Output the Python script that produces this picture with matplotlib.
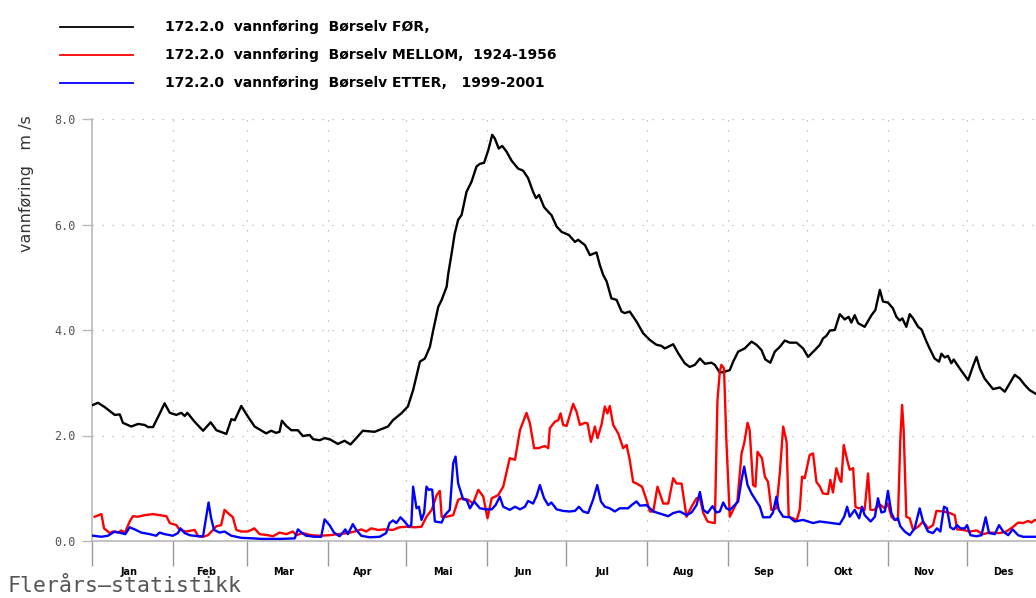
import matplotlib
matplotlib.use("Agg")
import matplotlib.pyplot as plt
from matplotlib.ticker import FixedLocator, NullFormatter

# ---------------- data (day of year, m3/s) ----------------
for_days = [0.4, 2.3, 4.8, 8.7, 10.6, 11.8, 15, 17.6, 20.1, 21.4, 23.3, 25.8, 27.7, 29.7, 32.2, 34.1, 35.4, 36.4,
            39.2, 42.4, 45.3, 47.5, 51.3, 53.2, 54.5, 57, 59.5, 62.1, 66.5, 68.4, 70.3, 71.6, 72.5, 74.2, 76.1,
            78.6, 80.5, 83.1, 84.4, 86.9, 88.8, 90.7, 93.9, 96.4, 98.7, 100.9, 103.4, 107.9, 110.4, 113, 114.9,
            118.1, 120.6, 122.6, 125.2, 127.1, 129, 130.3, 132.2, 133.5, 135.4, 136, 137.3, 138.5, 139.8, 141.1,
            143, 144.9, 146.8, 148.1, 149.7, 151.3, 152.8, 153.8, 155.3, 156.6, 158.3, 160.2, 162.7, 164.6,
            166.5, 168.4, 169.5, 170.7, 172.6, 174.2, 175.4, 177.4, 179.3, 182.1, 184.4, 185.6, 188.2, 190.1,
            192.6, 193.9, 195.2, 196.5, 198.3, 200.3, 202.2, 203.4, 205.3, 207.9, 210.4, 213, 215.5, 217.4,
            218.7, 221.9, 223.8, 226.3, 228.2, 230.2, 232.1, 234, 236.5, 237.8, 239.7, 241.6, 243.5, 244.8,
            246.7, 249.2, 251.8, 253.7, 255.6, 257.1, 259, 260.7, 262.6, 264.5, 266.4, 269, 271.5, 273.4, 276,
            277.9, 279.1, 280.4, 281.7, 283.6, 285.5, 287.4, 288.9, 289.9, 291.2, 292.5, 295, 297.6, 299.1,
            300.8, 302, 303.9, 305.8, 307.1, 308.4, 309.4, 310.9, 312.2, 313.5, 315.4, 316.7, 318.6, 319.8,
            321.7, 323.4, 324.3, 325.6, 326.8, 328.1, 329, 331.3, 334.5, 336.4, 337.7, 339, 340.8, 344, 346.6,
            348.5, 350.4, 352.3, 354.2, 356.1, 358, 360, 362, 364]
for_vals = [2.58, 2.62, 2.54, 2.39, 2.40, 2.24, 2.17, 2.22, 2.20, 2.16, 2.16, 2.41, 2.61, 2.43, 2.39, 2.43, 2.37,
            2.43, 2.26, 2.09, 2.25, 2.10, 2.03, 2.31, 2.29, 2.56, 2.36, 2.17, 2.04, 2.09, 2.05, 2.07, 2.28, 2.18,
            2.10, 2.10, 1.99, 2.01, 1.93, 1.91, 1.95, 1.93, 1.84, 1.90, 1.83, 1.95, 2.09, 2.07, 2.12, 2.17, 2.29,
            2.42, 2.55, 2.86, 3.40, 3.46, 3.68, 4.00, 4.44, 4.57, 4.82, 5.06, 5.45, 5.83, 6.09, 6.18, 6.62, 6.81,
            7.10, 7.15, 7.17, 7.41, 7.70, 7.63, 7.44, 7.49, 7.38, 7.21, 7.06, 7.02, 6.88, 6.62, 6.50, 6.56, 6.33,
            6.24, 6.18, 5.96, 5.86, 5.80, 5.67, 5.71, 5.61, 5.42, 5.47, 5.23, 5.04, 4.92, 4.60, 4.57, 4.35, 4.32,
            4.35, 4.16, 3.94, 3.81, 3.72, 3.70, 3.65, 3.73, 3.56, 3.37, 3.30, 3.34, 3.46, 3.36, 3.38, 3.34, 3.19,
            3.21, 3.24, 3.40, 3.59, 3.65, 3.78, 3.72, 3.62, 3.44, 3.38, 3.59, 3.68, 3.80, 3.76, 3.76, 3.65, 3.49,
            3.62, 3.72, 3.84, 3.89, 3.99, 4.00, 4.30, 4.20, 4.25, 4.14, 4.28, 4.13, 4.06, 4.28, 4.38, 4.76, 4.54,
            4.52, 4.41, 4.25, 4.18, 4.22, 4.06, 4.30, 4.22, 4.06, 4.01, 3.78, 3.65, 3.46, 3.40, 3.55, 3.48, 3.51,
            3.37, 3.44, 3.27, 3.05, 3.32, 3.49, 3.27, 3.08, 2.88, 2.91, 2.83, 2.99, 3.15, 3.08, 2.96, 2.86, 2.80,
            2.75, 2.70]

mellom_days = [1, 3.6, 4.6, 6.8, 8, 9.9, 11.2, 12.5, 14.4, 15.6, 17.6, 20.1, 23.3, 25.8, 28.4, 29.7, 32.2, 33.5,
               36, 39.2, 40.5, 42.4, 44.3, 47.5, 49.3, 50.6, 51.9, 53.8, 55.1, 57, 59.5, 62, 64, 67.2, 69.1, 71.6,
               74.2, 76.7, 78, 80.5, 83.7, 86.9, 90.7, 93.9, 97.7, 100.3, 102.8, 104.7, 106.6, 109.2, 111.7, 114.9,
               117.4, 120, 123.3, 125.8, 127.7, 129.7, 131.6, 132.8, 133.5, 135.4, 137.9, 139.8, 141.1, 143.6,
               145.5, 147.5, 149.4, 151, 152.6, 155.1, 157, 159.5, 161.5, 163.4, 165.9, 167.2, 168.8, 170.4,
               172.9, 174.2, 174.8, 176.7, 178, 178.9, 179.9, 181.2, 183.7, 185, 186.3, 188.2, 189.2, 190.5,
               192, 193, 194.5, 195.8, 196.8, 197.7, 199, 200.9, 202.8, 204.1, 205.3, 206.6, 207.9, 210, 211.7,
               213, 214.3, 215.9, 218.1, 220, 221.9, 223.2, 225.1, 227, 228.9, 230.8, 232.1, 233.4, 235, 236.5,
               237.8, 238.8, 239.7, 240.3, 241.3, 242.2, 243.5, 244.8, 246.4, 248, 249, 250.3, 251.1, 252.4,
               253.3, 254.1, 255.8, 256.9, 258.1, 259.4, 261.3, 262.6, 263.9, 265.2, 266, 267.7, 269, 270.2,
               271.1, 272.1, 273.2, 274, 275.3, 276.6, 277.9, 279.1, 281, 281.9, 282.9, 284.2, 285.5, 286.1,
               287, 288.3, 289.3, 290.6, 291.5, 292.5, 293.8, 295, 296.3, 297.2, 298.6, 299.9, 301.1, 302.7,
               303.9, 305.2, 306.5, 307.7, 308.6, 309.3, 309.9, 310.9, 312.2, 313.5, 315.4, 317.3, 319.2, 321.1,
               322.4, 325, 327.5, 329.4, 330.3, 332.6, 335.1, 337.7, 340.2, 342.7, 346.6, 349.1, 351.7, 353.6,
               355.5, 357.4, 358.7, 360, 362, 364]
mellom_vals = [0.46, 0.51, 0.24, 0.15, 0.18, 0.16, 0.20, 0.15, 0.37, 0.47, 0.46, 0.49, 0.51, 0.49, 0.47, 0.34,
               0.30, 0.21, 0.18, 0.21, 0.09, 0.08, 0.11, 0.28, 0.30, 0.59, 0.53, 0.45, 0.21, 0.18, 0.18, 0.24,
               0.13, 0.11, 0.09, 0.16, 0.13, 0.18, 0.11, 0.15, 0.11, 0.10, 0.11, 0.13, 0.15, 0.18, 0.22, 0.18,
               0.24, 0.21, 0.22, 0.21, 0.26, 0.27, 0.26, 0.27, 0.46, 0.59, 0.87, 0.95, 0.46, 0.46, 0.49, 0.78,
               0.81, 0.78, 0.71, 0.97, 0.84, 0.43, 0.81, 0.87, 1.03, 1.57, 1.54, 2.10, 2.43, 2.23, 1.76, 1.76,
               1.80, 1.76, 2.14, 2.26, 2.29, 2.42, 2.20, 2.18, 2.60, 2.45, 2.20, 2.24, 2.23, 1.88, 2.17, 1.95,
               2.20, 2.55, 2.42, 2.56, 2.20, 2.04, 1.76, 1.82, 1.54, 1.12, 1.09, 1.03, 0.78, 0.56, 0.56, 1.03,
               0.71, 0.71, 1.19, 1.09, 1.09, 0.46, 0.65, 0.81, 0.81, 0.53, 0.37, 0.35, 0.34, 2.67, 3.21, 3.34,
               3.27, 1.91, 0.46, 0.59, 0.75, 1.66, 1.85, 2.24, 2.10, 1.06, 1.03, 1.69, 1.57, 1.22, 1.12, 0.59,
               0.62, 1.28, 2.17, 1.88, 0.46, 0.43, 0.39, 0.59, 1.22, 1.19, 1.44, 1.63, 1.66, 1.12, 1.03, 0.90,
               0.89, 1.16, 0.92, 1.38, 1.16, 1.12, 1.82, 1.54, 1.35, 1.38, 0.65, 0.62, 0.63, 0.59, 1.28, 0.59,
               0.59, 0.65, 0.68, 0.62, 0.71, 0.46, 0.40, 0.40, 1.91, 2.58, 2.10, 0.46, 0.43, 0.21, 0.27, 0.37,
               0.24, 0.30, 0.57, 0.56, 0.53, 0.49, 0.22, 0.21, 0.18, 0.20, 0.13, 0.16, 0.15, 0.18, 0.27, 0.35,
               0.34, 0.38, 0.35, 0.40, 0.38, 0.40]

etter_days = [0.4, 3.6, 6.1, 8.7, 11.2, 12.7, 14.4, 16.3, 18.8, 22, 24.5, 25.8, 27.7, 30.9, 32.8, 33.8, 35.4, 37.3,
              40.5, 42.4, 43.6, 44.5, 45.5, 46.6, 48.7, 50.6, 53.2, 57, 61.5, 64.6, 72.3, 77.4, 78.6, 80.2, 81.8,
              85, 87.5, 88.8, 90.7, 92.4, 94.5, 95.8, 96.7, 97.7, 99.6, 100.9, 102.8, 106, 109.8, 112.3, 113.6,
              114.9, 116.2, 117.8, 119.3, 121, 121.9, 122.6, 123.9, 124.8, 125.8, 126.8, 127.7, 128.6, 129.4,
              129.9, 130.9, 133.5, 134.7, 136.6, 137.9, 138.8, 139.8, 141.7, 143, 144.3, 145.9, 148.1, 150.6,
              152.6, 154.1, 155.7, 157, 159.5, 161.5, 163.4, 165.3, 166.5, 168.4, 169.7, 171, 172.6, 174.2,
              175.4, 177.4, 179.9, 182.2, 184.4, 185.9, 187.5, 189.4, 191.3, 192.9, 194.3, 195.8, 197.7, 199.6,
              201.5, 204.7, 206, 207.9, 209.2, 211.7, 214.3, 217.4, 220, 221.9, 224.4, 227, 228.9, 230.8, 232.1,
              233.4, 235, 236.9, 238.4, 239.7, 241, 242.2, 243.5, 244.8, 246.7, 248, 249, 250.3, 251.8, 253.7,
              255, 256.2, 258.8, 260, 261.3, 262.2, 263.9, 266.4, 268.3, 271.5, 275.3, 277.9, 281, 285.5, 287.2,
              288.3, 289.3, 291.2, 292.9, 294, 295, 297.3, 298.9, 300.1, 301.4, 302.7, 303.9, 305.2, 306.5,
              307.7, 308.6, 310.3, 312.2, 314.1, 316, 317.3, 319.2, 321.1, 322.6, 323.9, 325.3, 326.4, 327.7,
              329, 330.3, 331.6, 333.2, 334.1, 335.4, 337.7, 339.6, 341.2, 342.5, 344.7, 346.3, 347.9, 349.8,
              351.5, 353.6, 355.5, 360, 364]
etter_vals = [0.10, 0.08, 0.10, 0.18, 0.15, 0.13, 0.26, 0.22, 0.16, 0.13, 0.10, 0.16, 0.13, 0.10, 0.15, 0.24,
              0.15, 0.11, 0.09, 0.09, 0.46, 0.73, 0.43, 0.21, 0.16, 0.18, 0.10, 0.06, 0.05, 0.04, 0.04, 0.05,
              0.22, 0.15, 0.10, 0.08, 0.08, 0.41, 0.30, 0.16, 0.09, 0.16, 0.22, 0.13, 0.32, 0.21, 0.10, 0.07,
              0.08, 0.15, 0.34, 0.39, 0.34, 0.45, 0.37, 0.27, 0.30, 1.03, 0.62, 0.65, 0.40, 0.53, 1.03, 0.97,
              0.98, 0.97, 0.37, 0.35, 0.49, 0.59, 1.47, 1.60, 1.09, 0.79, 0.78, 0.62, 0.75, 0.62, 0.60, 0.60,
              0.68, 0.84, 0.65, 0.59, 0.65, 0.60, 0.65, 0.76, 0.71, 0.85, 1.06, 0.81, 0.68, 0.73, 0.60, 0.57,
              0.56, 0.57, 0.65, 0.56, 0.53, 0.78, 1.06, 0.75, 0.65, 0.62, 0.56, 0.62, 0.62, 0.68, 0.75, 0.67,
              0.68, 0.56, 0.51, 0.47, 0.53, 0.56, 0.49, 0.54, 0.68, 0.93, 0.59, 0.53, 0.66, 0.54, 0.56, 0.73,
              0.62, 0.59, 0.65, 0.75, 1.16, 1.41, 1.06, 0.90, 0.75, 0.65, 0.45, 0.45, 0.54, 0.84, 0.59, 0.46,
              0.45, 0.37, 0.40, 0.34, 0.37, 0.35, 0.32, 0.46, 0.65, 0.46, 0.59, 0.43, 0.65, 0.49, 0.37, 0.46,
              0.81, 0.54, 0.56, 0.95, 0.53, 0.40, 0.43, 0.28, 0.18, 0.11, 0.24, 0.62, 0.37, 0.18, 0.15, 0.24,
              0.18, 0.65, 0.62, 0.26, 0.22, 0.30, 0.24, 0.24, 0.30, 0.11, 0.09, 0.11, 0.45, 0.15, 0.13, 0.30,
              0.18, 0.11, 0.22, 0.11, 0.08, 0.08, 0.08]

month_starts = [0, 31, 59, 90, 120, 151, 181, 212, 243, 273, 304, 334, 365]
month_names = ["Jan", "Feb", "Mar", "Apr", "Mai", "Jun", "Jul", "Aug", "Sep", "Okt", "Nov", "Des"]
y_ticks = [0.0, 2.0, 4.0, 6.0, 8.0]
y_ticklabels = ["0.0", "2.0", "4.0", "6.0", "8.0"]
legend_labels = ["172.2.0  vannføring  Børselv FØR,",
                 "172.2.0  vannføring  Børselv MELLOM,  1924-1956",
                 "172.2.0  vannføring  Børselv ETTER,   1999-2001"]

# ---------------- figure ----------------
W, H = 1036, 598
fig = plt.figure(figsize=(W / 100, H / 100), dpi=100)
fig.patch.set_facecolor("white")

x0, x1 = 92, 1048
y0, y1 = 541, 119
ax = fig.add_axes([x0 / W, 1 - y0 / H, (x1 - x0) / W, (y0 - y1) / H])
ax.set_xlim(0, 365)
ax.set_ylim(0, 8)
ax.patch.set_alpha(0)

grid_kw = dict(color="#b0b0b0", lw=0.9, ls=(0, (1, 7)), zorder=0)
for m in month_starts[1:-1]:
    ax.axvline(m, **grid_kw)
for yv in y_ticks[1:]:
    ax.axhline(yv, **grid_kw)

ax.plot(for_days, for_vals, color="black", lw=1.7, zorder=3)
ax.plot(mellom_days, mellom_vals, color="#ff0000", lw=1.7, zorder=4)
ax.plot(etter_days, etter_vals, color="#0000ff", lw=1.7, zorder=5)

for s in ["top", "right"]:
    ax.spines[s].set_visible(False)
for s in ["left", "bottom"]:
    ax.spines[s].set_color("#b8b8b8")
    ax.spines[s].set_linewidth(1.2)

ax.set_yticks(y_ticks)
ax.set_yticklabels(y_ticklabels, family="DejaVu Sans Mono", fontsize=8.5, color="#555555")
ax.tick_params(axis="y", length=7, width=1, color="#b8b8b8", pad=5)

ax.xaxis.set_major_locator(FixedLocator(month_starts))
ax.xaxis.set_major_formatter(NullFormatter())
centers = [(month_starts[i] + month_starts[i + 1]) / 2 - 1.5 for i in range(12)]
ax.xaxis.set_minor_locator(FixedLocator(centers))
ax.set_xticklabels(month_names, minor=True, fontsize=7, fontweight="bold",
                   family=["Liberation Sans Narrow", "DejaVu Sans"])
ax.tick_params(axis="x", which="major", length=18, width=1, color="#999999", direction="out")
ax.tick_params(axis="x", which="minor", length=0, pad=19)

fig.text(27 / W, 1 - 184 / H, "vannføring   m /s", rotation=90, ha="center", va="center",
         fontsize=11.5, color="#333333", family=["Liberation Sans Narrow", "DejaVu Sans"])

# legend at top
leg_y = [27, 55, 83]
colors = ["black", "#ff0000", "#0000ff"]
for yy, lab, c in zip(leg_y, legend_labels, colors):
    fig.add_artist(plt.Line2D([60 / W, 133 / W], [1 - yy / H, 1 - yy / H], color=c, lw=1.3))
    fig.text(165 / W, 1 - yy / H, lab, ha="left", va="center", fontsize=10, fontweight="bold",
             family=["Liberation Sans Narrow", "DejaVu Sans"])

fig.text(8 / W, 1 - 586 / H, "Flerårs—statistikk", ha="left", va="center", fontsize=15.5,
         color="#555555", family="DejaVu Sans Mono")

fig.savefig("out.png", dpi=100)
